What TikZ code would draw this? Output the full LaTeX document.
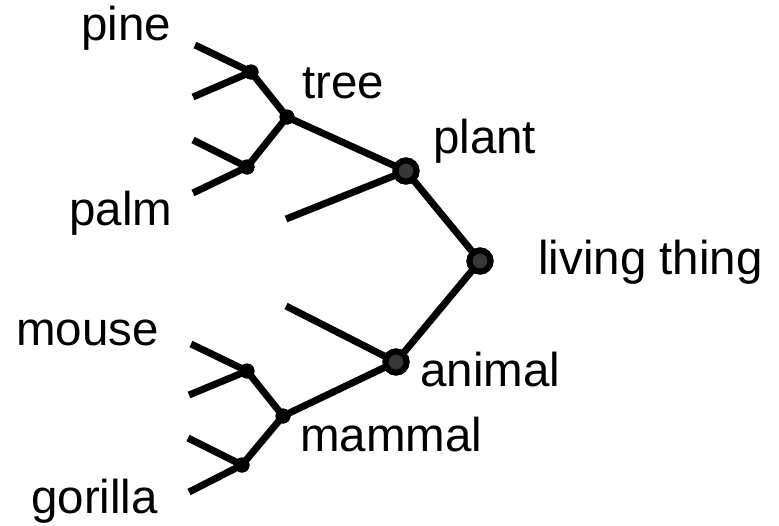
\documentclass[tikz,border=0pt]{standalone}
\usepackage{fontspec}
\setmainfont{Liberation Sans}
\begin{document}
\begin{tikzpicture}[x=1pt,y=-1pt,
  branch/.style={line width=7pt},
  small/.style={circle,fill=black,inner sep=0pt,minimum size=15pt},
  big/.style={circle,fill=black!78,draw=black,line width=6pt,inner sep=0pt,minimum size=21pt},
  lbl/.style={anchor=base west,inner sep=0pt,font=\fontsize{47.5}{56}\selectfont}]
\useasboundingbox (0,0) rectangle (779,525);
% internal nodes
\node[small] (pn) at (251,72) {};
\node[small] (tr) at (287,117) {};
\node[small] (pa) at (247,167) {};
\node[big] (pl) at (406,171) {};
\node[big] (lt) at (480,261) {};
\node[big] (an) at (396,362) {};
\node[small] (mo) at (247,371) {};
\node[small] (ma) at (283,416) {};
\node[small] (go) at (242,465) {};
% free leaf ends
\coordinate (pn1) at (195,45);
\coordinate (pn2) at (193,97);
\coordinate (pa1) at (193,140);
\coordinate (pa2) at (193,193);
\coordinate (pl1) at (286,219);
\coordinate (an1) at (286,306);
\coordinate (mo1) at (191,344);
\coordinate (mo2) at (189,395);
\coordinate (go1) at (188,438);
\coordinate (go2) at (189,492);
% branches
\draw[branch] (pn1) -- (pn.center) (pn2) -- (pn.center);
\draw[branch] (pa1) -- (pa.center) (pa2) -- (pa.center);
\draw[branch] (pn.center) -- (tr.center) -- (pa.center);
\draw[branch] (tr.center) -- (pl.center);
\draw[branch] (pl1) -- (pl.center);
\draw[branch] (pl.center) -- (lt.center) -- (an.center);
\draw[branch] (an1) -- (an.center);
\draw[branch] (mo1) -- (mo.center) (mo2) -- (mo.center);
\draw[branch] (go1) -- (go.center) (go2) -- (go.center);
\draw[branch] (mo.center) -- (ma.center) -- (go.center);
\draw[branch] (ma.center) -- (an.center);
% redraw node discs on top
\foreach \n in {pn,tr,pa,mo,ma,go} \fill (\n) circle (7.5pt);
\foreach \n in {pl,lt,an} \draw[fill=black!78,line width=6pt] (\n) circle (10.5pt);
% labels
\node[lbl] (tpine) at (81,40) {pine};
\node[lbl] (ttree) at (302,98) {tree};
\node[lbl] (tplant) at (433,153) {plant};
\node[lbl] (tpalm) at (69,225) {palm};
\node[lbl] (tliving) at (538,274) {living thing};
\node[lbl] (tmouse) at (16,345) {mouse};
\node[lbl] (tanimal) at (420,386) {animal};
\node[lbl] (tmammal) at (300,451) {mammal};
\node[lbl] (tgorilla) at (31,513) {gorilla};
\end{tikzpicture}
\end{document}
